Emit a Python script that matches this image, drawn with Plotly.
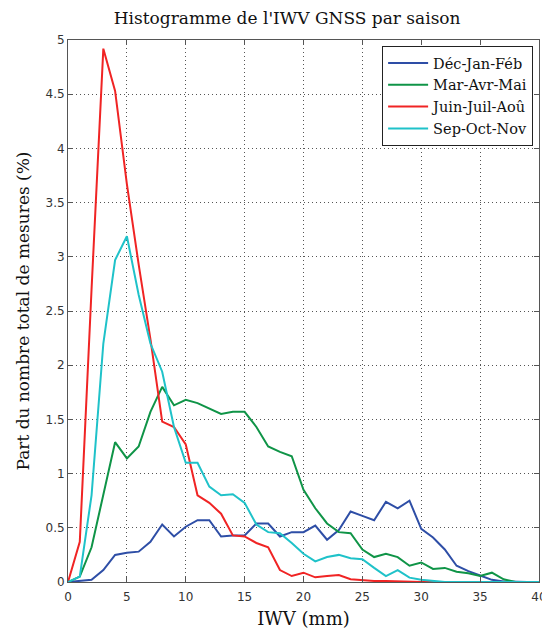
import plotly.graph_objects as go

iwv = list(range(0, 41))

dec_jan_feb = [0, 0.01, 0.02, 0.11, 0.25, 0.27, 0.28, 0.37, 0.53, 0.42,
               0.51, 0.57, 0.57, 0.42, 0.43, 0.43, 0.54, 0.54, 0.42, 0.46,
               0.46, 0.52, 0.39, 0.48, 0.65, 0.61, 0.57, 0.74, 0.68, 0.75,
               0.49, 0.41, 0.30, 0.15, 0.10, 0.06, 0.02, 0.005, 0, 0, 0]
mar_avr_mai = [0, 0.05, 0.32, 0.81, 1.29, 1.14, 1.25, 1.57, 1.80, 1.63,
               1.68, 1.65, 1.60, 1.55, 1.57, 1.57, 1.43, 1.25, 1.20, 1.16,
               0.85, 0.68, 0.54, 0.46, 0.45, 0.30, 0.23, 0.26, 0.23, 0.15,
               0.18, 0.12, 0.13, 0.095, 0.08, 0.055, 0.086, 0.025, 0, 0, 0]
juin_juil_aou = [0, 0.37, 2.7, 4.92, 4.53, 3.67, 2.93, 2.24, 1.48, 1.43,
                 1.27, 0.80, 0.73, 0.63, 0.43, 0.42, 0.36, 0.32, 0.11, 0.055,
                 0.086, 0.043, 0.055, 0.065, 0.025, 0.018, 0.01, 0.01, 0.005, 0.005,
                 0, 0, 0, 0, 0, 0, 0, 0, 0, 0, 0]
sep_oct_nov = [0, 0.05, 0.8, 2.2, 2.97, 3.19, 2.65, 2.20, 1.94, 1.43,
               1.10, 1.10, 0.88, 0.80, 0.81, 0.73, 0.53, 0.46, 0.45, 0.36,
               0.26, 0.19, 0.23, 0.25, 0.22, 0.21, 0.13, 0.055, 0.11, 0.04,
               0.02, 0.01, 0, 0, 0, 0, 0, 0, 0, 0, 0]

series = [
    ("Déc-Jan-Féb", dec_jan_feb, "#2e4ea6"),
    ("Mar-Avr-Mai", mar_avr_mai, "#0f9447"),
    ("Juin-Juil-Aoû", juin_juil_aou, "#f02424"),
    ("Sep-Oct-Nov", sep_oct_nov, "#1fc2c9"),
]

x_ticks = [0, 5, 10, 15, 20, 25, 30, 35, 40]
y_ticks = [0, 0.5, 1, 1.5, 2, 2.5, 3, 3.5, 4, 4.5, 5]

fig = go.Figure()
for name, vals, col in series:
    fig.add_trace(go.Scatter(x=iwv, y=vals, mode="lines", name=name,
                             line=dict(color=col, width=2)))

serif = "DejaVu Serif"
axis_common = dict(
    showline=True, linecolor="#555", linewidth=1, mirror="ticks",
    ticks="inside", ticklen=5, tickcolor="#555",
    showgrid=True, gridcolor="#555", griddash="1px,3px", gridwidth=1,
    zeroline=False, automargin=False,
    tickfont=dict(family="DejaVu Sans", size=12, color="#333"),
)

# page body has an 8px margin, so the figure is 542x625 and shifted
fig.update_layout(
    width=542, height=625,
    margin=dict(l=60, r=11, t=32, b=51, autoexpand=False),
    paper_bgcolor="white", plot_bgcolor="white",
    title=dict(text="Histogramme de l'IWV GNSS par saison",
               x=0.515, xanchor="center", y=0.984, yanchor="middle",
               font=dict(family=serif, size=17, color="#111"), automargin=False),
    xaxis=dict(range=[0, 40], tickvals=x_ticks, ticklabelstandoff=4,
               title=dict(text="IWV (mm)", font=dict(family=serif, size=18, color="#111"), standoff=8),
               **axis_common),
    yaxis=dict(range=[0, 5], tickvals=y_ticks,
               title=dict(text="Part du nombre total de mesures (%)", font=dict(family=serif, size=17, color="#111"), standoff=11),
               **axis_common),
    legend=dict(x=0.9875, y=0.989, xanchor="right", yanchor="top",
                bgcolor="white", bordercolor="#222", borderwidth=1,
                font=dict(family=serif, size=14.5, color="#111"),
                tracegroupgap=0, itemwidth=40),
)

fig.write_html("out.html")
